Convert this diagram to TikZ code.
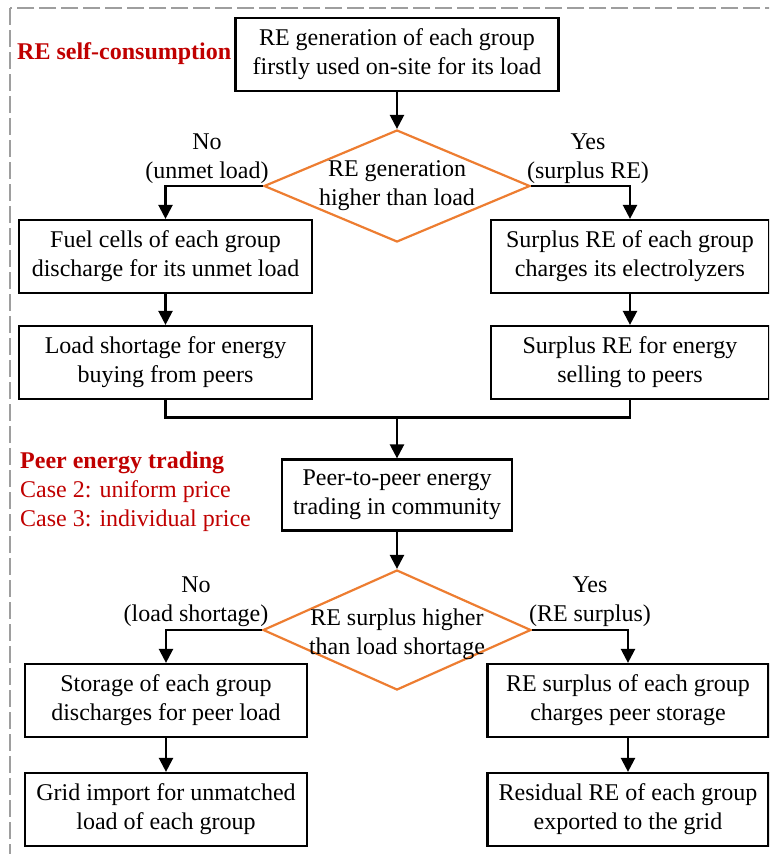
\documentclass[tikz,border=0pt]{standalone}
\usepackage{fontspec}
\setmainfont{Liberation Serif}
\usepackage{tikz}
\usetikzlibrary{shapes.geometric, arrows.meta, positioning, calc}
\definecolor{redlabel}{HTML}{C00000}
\definecolor{decisionline}{HTML}{ED7D31}
\definecolor{bordergray}{HTML}{9E9E9E}
\tikzstyle{process} = [rectangle, minimum height=73pt, text centered, align=center, draw=black, line width=2.2pt, fill=white]
\tikzstyle{decision} = [diamond, minimum width=266pt, minimum height=112pt, inner sep=0pt, draw=decisionline, line width=2.2pt]
\tikzstyle{branch} = [align=center]
\tikzstyle{phase} = [text=redlabel, align=left, anchor=west, inner sep=0pt]
\tikzstyle{arrow} = [line width=2.3pt, -{Triangle[length=14pt,width=14pt]}]
\tikzstyle{line} = [line width=2.3pt]
\tikzstyle{border} = [draw=bordergray, line width=2pt, dash pattern=on 17pt off 5pt]

\begin{document}
\begin{tikzpicture}[x=1pt, y=1pt, node distance=106pt, font=\fontsize{24}{29}\selectfont]
\useasboundingbox (0,0) rectangle (769,-854);
\clip (0,0) rectangle (769,-854);
\draw [border] (10,-8) rectangle (800,-880);

% Nodes
\node (top) [process, minimum width=323pt] at (397,-54.5) {RE generation of each group\\firstly used on-site for its load};
\node (d1) [decision, below of=top, yshift=-25.5pt, label={[align=center, yshift=0.5pt]center:RE generation\\higher than load}] {};
\node (fuel) [process, minimum width=293pt, below of=d1, xshift=-231.5pt, yshift=35.5pt] {Fuel cells of each group\\discharge for its unmet load};
\node (surplus) [process, minimum width=278pt, right of=fuel, xshift=358.5pt] {Surplus RE of each group\\charges its electrolyzers};
\node (shortage) [process, minimum width=293pt, below of=fuel] {Load shortage for energy\\buying from peers};
\node (sell) [process, minimum width=278pt, below of=surplus] {Surplus RE for energy\\selling to peers};
\node (p2p) [process, minimum width=230pt, minimum height=71pt, below of=d1, yshift=-203pt] {Peer-to-peer energy\\trading in community};
\node (d2) [decision, minimum width=268pt, minimum height=120pt, below of=p2p, yshift=-29pt, label={[align=center, yshift=-4pt]center:RE surplus higher\\than load shortage}] {};
\node (storage) [process, minimum width=282pt, below of=d2, xshift=-231pt, yshift=35.5pt] {Storage of each group\\discharges for peer load};
\node (grid) [process, minimum width=282pt, below of=storage, yshift=-3pt] {Grid import for unmatched\\load of each group};
\node (charge) [process, minimum width=281pt, right of=storage, xshift=356pt] {RE surplus of each group\\charges peer storage};
\node (residual) [process, minimum width=281pt, below of=charge, yshift=-3pt] {Residual RE of each group\\exported to the grid};
\coordinate (merge) at ($(p2p.north)+(0,41)$);

% Labels
\node (no1) [branch] at (207,-159) {No\\(unmet load)};
\node (yes1) [branch] at (588,-159) {Yes\\(surplus RE)};
\node (no2) [branch] at (196,-602) {No\\(load shortage)};
\node (yes2) [branch] at (590,-602) {Yes\\(RE surplus)};
\node (self) [phase, font=\fontsize{24}{29}\selectfont\bfseries] at (17,-54) {RE self-consumption};
\node (trade) [phase] at (20,-492) {\textbf{Peer energy trading}\\Case 2: uniform price\\Case 3: individual price};

% Arrows
\draw [arrow] (top) -- (d1);
\draw [arrow] (d1.west) -| (fuel);
\draw [arrow] (d1.east) -| (surplus);
\draw [arrow] (fuel) -- (shortage);
\draw [arrow] (surplus) -- (sell);
\draw [line] (shortage) |- (merge) -| (sell);
\draw [arrow] (merge) -- (p2p);
\draw [arrow] (p2p) -- (d2);
\draw [arrow] (d2.west) -| (storage);
\draw [arrow] (d2.east) -| (charge);
\draw [arrow] (storage) -- (grid);
\draw [arrow] (charge) -- (residual);

\end{tikzpicture}
\end{document}
